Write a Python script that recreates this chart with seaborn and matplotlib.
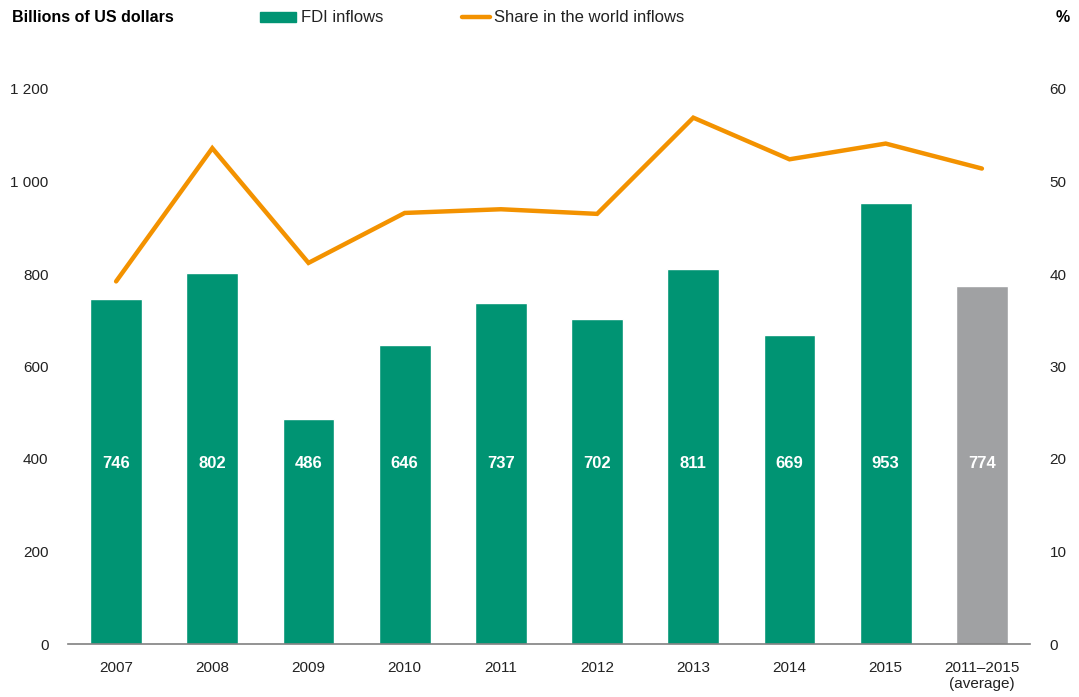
import matplotlib
matplotlib.use("Agg")
import matplotlib.pyplot as plt
from matplotlib import font_manager
from matplotlib.patches import Rectangle
from matplotlib.lines import Line2D
import seaborn as sns
import pandas as pd

categories = ["2007", "2008", "2009", "2010", "2011", "2012", "2013", "2014", "2015", "2011\u20132015\n(average)"]
fdi_inflows = [746, 802, 486, 646, 737, 702, 811, 669, 953, 774]
world_share = [39.2, 53.6, 41.2, 46.6, 47.0, 46.5, 56.9, 52.4, 54.1, 51.4]
left_ticks = [0, 200, 400, 600, 800, 1000, 1200]
left_tick_labels = ["0", "200", "400", "600", "800", "1 000", "1 200"]
right_ticks = [0, 10, 20, 30, 40, 50, 60]

GREEN = "#009473"
GREY = "#a0a1a3"
ORANGE = "#f39200"
TEXT = "#222222"

sns.set_theme(style="white")
installed = {f.name for f in font_manager.fontManager.ttflist}
family = [f for f in ["Liberation Sans Narrow", "Liberation Sans", "DejaVu Sans"] if f in installed]
plt.rcParams["font.family"] = family

df = pd.DataFrame({"category": categories, "fdi": fdi_inflows, "share": world_share})
df["pos"] = range(len(df))

fig = plt.figure(figsize=(10.79, 6.97), dpi=100)
ax = fig.add_axes([68 / 1079, 53 / 697, 962 / 1079, 555 / 697])

bar_colors = [GREEN] * (len(df) - 1) + [GREY]
sns.barplot(data=df, x="category", y="fdi", hue="category", palette=bar_colors,
            legend=False, width=0.54, saturation=1, ax=ax)
ax.set_xlim(-0.5, len(df) - 0.5)
ax.set_ylim(0, 1200)
ax.set_yticks(left_ticks)
ax.set_yticklabels(left_tick_labels)
ax.set_xlabel("")
ax.set_ylabel("")
ax.tick_params(axis="both", length=0, labelsize=11, colors=TEXT)
ax.tick_params(axis="y", pad=14)
ax.tick_params(axis="x", pad=12)
for s in ["top", "right", "left"]:
    ax.spines[s].set_visible(False)
ax.spines["bottom"].set_color("#808080")
ax.spines["bottom"].set_linewidth(1.2)

# value labels inside each bar
for i, v in enumerate(df["fdi"]):
    ax.text(i, 390, f"{v}", ha="center", va="center", color="white",
            fontsize=12, fontweight="bold")

ax2 = ax.twinx()
sns.lineplot(data=df, x="pos", y="share", color=ORANGE, linewidth=3.2, ax=ax2,
             solid_capstyle="round", solid_joinstyle="miter")
ax2.set_ylim(0, 60)
ax2.set_yticks(right_ticks)
ax2.set_ylabel("")
ax2.set_xlabel("")
ax2.tick_params(axis="y", length=0, labelsize=11, colors=TEXT, pad=14)
for s in ["top", "right", "left", "bottom"]:
    ax2.spines[s].set_visible(False)
ax2.set_xlim(-0.5, len(df) - 0.5)

fig.text(12 / 1079, 1 - 17 / 697, "Billions of US dollars", ha="left", va="center",
         fontsize=11.5, fontweight="bold", color="black")
fig.text(1070 / 1079, 1 - 17 / 697, "%", ha="right", va="center",
         fontsize=11.5, fontweight="bold", color="black")

# legend built as figure-level artists
fig.patches.append(Rectangle((260 / 1079, 1 - 22 / 697), 36 / 1079, 10 / 697,
                             transform=fig.transFigure, color=GREEN))
fig.text(301 / 1079, 1 - 17 / 697, "FDI inflows", ha="left", va="center",
         fontsize=12, color=TEXT)
fig.lines.append(Line2D([462 / 1079, 490 / 1079], [1 - 17 / 697, 1 - 17 / 697],
                        transform=fig.transFigure, color=ORANGE, linewidth=3.2,
                        solid_capstyle="round"))
fig.text(494 / 1079, 1 - 17 / 697, "Share in the world inflows", ha="left", va="center",
         fontsize=12, color=TEXT)

fig.savefig("out.png", dpi=100)
